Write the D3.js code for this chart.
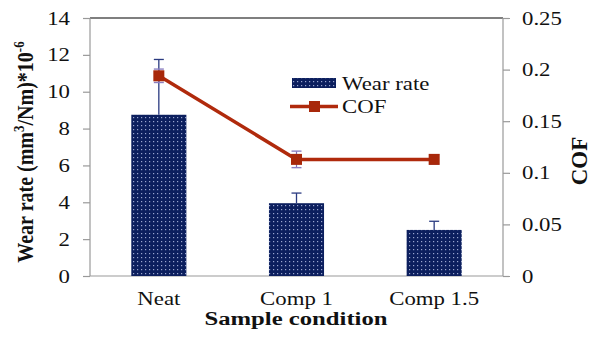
<!DOCTYPE html>
<html><head><meta charset="utf-8">
<script src="https://cdn.jsdelivr.net/npm/d3@7"></script>
<style>html,body{margin:0;padding:0;background:#fff;}svg{display:block;}</style>
</head><body>
<script>
const categories = ["Neat", "Comp 1", "Comp 1.5"];
const wearRate = [8.75, 3.95, 2.5];
const wearErr = [3.0, 0.55, 0.47];
const cof = [0.194, 0.113, 0.113];
const cofErr = [0.0065, 0.008, 0.0045];
const leftTicks = [0, 2, 4, 6, 8, 10, 12, 14];
const rightTicks = [0, 0.05, 0.1, 0.15, 0.2, 0.25];
const rightTickLabels = ["0", "0.05", "0.1", "0.15", "0.2", "0.25"];

const W = 599, H = 337;
const m = {left: 90, right: 503, top: 18, bottom: 276};
const SX = 1.2;
const FONT = "Liberation Serif";

const svg = d3.select("body").append("svg").attr("width", W).attr("height", H);
const defs = svg.append("defs");
const pat = defs.append("pattern").attr("id", "dots").attr("patternUnits", "userSpaceOnUse")
  .attr("width", 4).attr("height", 4);
pat.append("rect").attr("width", 4).attr("height", 4).attr("fill", "#0c1f5e");
pat.append("rect").attr("x", 1).attr("y", 1).attr("width", 1.2).attr("height", 1.2).attr("fill", "#9aa6cf");

const x = d3.scaleBand().domain(categories).range([m.left, m.right]).paddingInner(0.6).paddingOuter(0.3);
const yL = d3.scaleLinear().domain([0, 14]).range([m.bottom, m.top]);
const yR = d3.scaleLinear().domain([0, 0.25]).range([m.bottom, m.top]);

function txt(g, s, px, py, opts) {
  return g.append("text")
    .attr("transform", `translate(${px},${py}) scale(${opts.sx || SX},1)`)
    .style("font-family", FONT)
    .style("font-size", (opts.size || 19) + "px")
    .style("font-weight", opts.weight || "normal")
    .attr("text-anchor", opts.anchor || "start").attr("fill", "#111").text(s);
}

// top border
svg.append("line").attr("x1", m.left).attr("x2", m.right).attr("y1", m.top).attr("y2", m.top)
  .attr("stroke", "#000").attr("stroke-width", 1.2);

// left axis
const axL = d3.axisLeft(yL).tickValues(leftTicks).tickSize(7).tickFormat("");
const gL = svg.append("g").attr("transform", `translate(${m.left},0)`).call(axL);
gL.selectAll("path,line").attr("stroke", "#999").attr("stroke-width", 1.2);
gL.select("path").attr("d", `M0,${m.top}V${m.bottom}`);
leftTicks.forEach(v => txt(svg, String(v), 70, yL(v) + 6.5, {anchor: "end"}));

// right axis
const axR = d3.axisRight(yR).tickValues(rightTicks).tickSize(7).tickFormat("");
const gR = svg.append("g").attr("transform", `translate(${m.right},0)`).call(axR);
gR.selectAll("path,line").attr("stroke", "#999").attr("stroke-width", 1.2);
gR.select("path").attr("d", `M0,${m.top}V${m.bottom}`);
rightTicks.forEach((v, i) => txt(svg, rightTickLabels[i], 522, yR(v) + 6.5, {}));

// bottom axis
svg.append("line").attr("x1", m.left).attr("x2", m.right).attr("y1", m.bottom).attr("y2", m.bottom)
  .attr("stroke", "#999").attr("stroke-width", 1.2);
categories.forEach(c => txt(svg, c, x(c) + x.bandwidth() / 2, 305, {anchor: "middle"}));

// bars
svg.selectAll("rect.bar").data(categories).join("rect").attr("class", "bar")
  .attr("x", d => x(d)).attr("width", x.bandwidth())
  .attr("y", (d, i) => yL(wearRate[i])).attr("height", (d, i) => m.bottom - yL(wearRate[i]))
  .attr("fill", "url(#dots)");

// wear error bars (upper)
categories.forEach((c, i) => {
  const cx = x(c) + x.bandwidth() / 2;
  svg.append("line").attr("x1", cx).attr("x2", cx).attr("y1", yL(wearRate[i])).attr("y2", yL(wearRate[i] + wearErr[i]))
    .attr("stroke", "#2a3a80").attr("stroke-width", 1.3);
  svg.append("line").attr("x1", cx - 5).attr("x2", cx + 5).attr("y1", yL(wearRate[i] + wearErr[i])).attr("y2", yL(wearRate[i] + wearErr[i]))
    .attr("stroke", "#2a3a80").attr("stroke-width", 1.3);
});

// cof error bars
categories.forEach((c, i) => {
  const cx = x(c) + x.bandwidth() / 2;
  const t = yR(cof[i] + cofErr[i]), b = yR(cof[i] - cofErr[i]);
  svg.append("line").attr("x1", cx).attr("x2", cx).attr("y1", t).attr("y2", b).attr("stroke", "#7e6fb5").attr("stroke-width", 1.2);
  [t, b].forEach(yy => svg.append("line").attr("x1", cx - 5).attr("x2", cx + 5).attr("y1", yy).attr("y2", yy)
    .attr("stroke", "#8c7fc0").attr("stroke-width", 1.4));
});

// cof line
const COFC = "#b02a0c";
const line = d3.line().x((d, i) => x(categories[i]) + x.bandwidth() / 2).y(d => yR(d));
svg.append("path").datum(cof).attr("d", line).attr("fill", "none").attr("stroke", COFC).attr("stroke-width", 3.5);
svg.selectAll("rect.mk").data(cof).join("rect").attr("class", "mk")
  .attr("x", (d, i) => x(categories[i]) + x.bandwidth() / 2 - 5.5).attr("y", d => yR(d) - 5.5)
  .attr("width", 11).attr("height", 11).attr("fill", "#a8280a");

// legend
svg.append("rect").attr("x", 292).attr("y", 78).attr("width", 44).attr("height", 10).attr("fill", "url(#dots)");
txt(svg, "Wear rate", 342, 90, {});
svg.append("line").attr("x1", 290).attr("x2", 338).attr("y1", 106.5).attr("y2", 106.5).attr("stroke", COFC).attr("stroke-width", 3.5);
svg.append("rect").attr("x", 309).attr("y", 101).attr("width", 11).attr("height", 11).attr("fill", "#a8280a");
txt(svg, "COF", 342, 113, {});

// axis titles
txt(svg, "Sample condition", 296, 325, {anchor: "middle", weight: "bold", sx: 1.3});

const lt = svg.append("text")
  .attr("transform", "translate(33,152) rotate(-90) scale(1,1.15)")
  .style("font-family", FONT)
  .style("font-size", "20px").style("font-weight", "bold")
  .attr("text-anchor", "middle").attr("fill", "#111");
lt.append("tspan").text("Wear rate (mm");
lt.append("tspan").style("font-size", "13px").attr("dy", -8).text("3");
lt.append("tspan").attr("dy", 8).text("/Nm)*10");
lt.append("tspan").style("font-size", "13px").attr("dy", -8).text("-6");

svg.append("text")
  .attr("transform", "translate(587,161) rotate(-90)")
  .style("font-family", FONT)
  .style("font-size", "23px").style("font-weight", "bold")
  .attr("text-anchor", "middle").attr("fill", "#111").text("COF");
</script>
</body></html>
